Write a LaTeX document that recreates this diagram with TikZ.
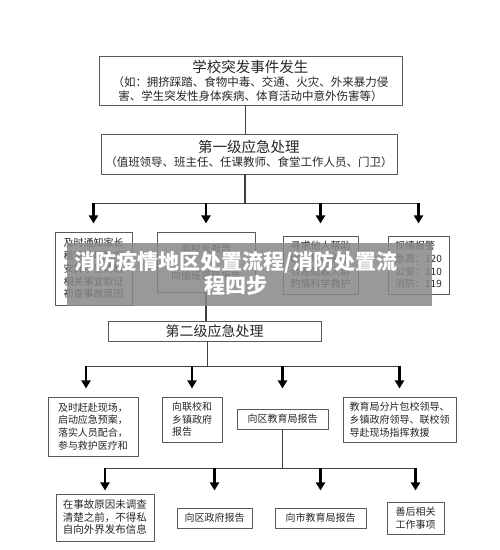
\documentclass[tikz,border=0pt]{standalone}
\usepackage{fontspec}
\newfontfamily\cjk{Noto Sans CJK SC}
\usetikzlibrary{arrows.meta}
\begin{document}
\begin{tikzpicture}[x=1pt, y=-1pt, font=\cjk, line join=round,
		box/.style 2 args={draw=black!65, line width=0.9pt, inner sep=0pt, text=black!85, minimum width=#1, minimum height=#2},
		txt/.style={font=\cjk\fontsize{10}{12.7}\selectfont},
		conn/.style={draw=black!75, line width=1.1pt},
		arr/.style={-{Triangle[width=9pt,length=8pt]}, line width=2.3pt, black}]
	\useasboundingbox (0,0) rectangle (500,550);
	% top boxes
	\node[box={303}{49}, align=center, font=\cjk\fontsize{11.5}{14}\selectfont] (evt) at (250.5,80.5)
		{{\fontsize{14.5}{16}\selectfont 学校突发事件发生}\\ （如：拥挤踩踏、食物中毒、交通、火灾、外来暴力侵\\ 害、学生突发性身体疾病、体育活动中意外伤害等）};
	\node[box={296}{40}, align=center, font=\cjk\fontsize{11.5}{14}\selectfont] (lvl1) at (249,154)
		{{\fontsize{14.5}{16}\selectfont 第一级应急处理}\\ （值班领导、班主任、任课教师、食堂工作人员、门卫）};
	% first row
	\node[box={77}{73}, txt, align=left] (A) at (93.5,268.5) {及时通知家长\\稳定现场秩序\\安抚学生情绪\\相关事宜取证\\初查事故原因};
	\node[box={98}{60}, txt, align=center] (B) at (206,262) {向校长报告\\[14pt]向值班领导报告};
	\node[box={75}{58}, txt, align=left] (C) at (320.5,265) {寻求他人帮助\\维护现场秩序\\合理疏散人群\\酌情科学救护};
	\node[box={61}{58}, txt, align=left] (D) at (418.5,265) {视情报警\\急救：120\\公安：110\\消防：119};
	\node[box={213}{20}, font=\cjk\fontsize{14}{16}\selectfont] (lvl2) at (214.5,331) {第二级应急处理};
	% second row
	\node[box={90}{59}, txt, align=left] (E) at (93,426.5) {及时赶赴现场，\\启动应急预案，\\落实人员配合，\\参与救护医疗和};
	\node[box={60}{45}, txt, align=left] (F) at (192,419.5) {向联校和\\乡镇政府\\报告};
	\node[box={91}{20}, txt] (G) at (282.5,419) {向区教育局报告};
	\node[box={113}{45}, txt, align=left] (H) at (399.5,419.5) {教育局分片包校领导、\\乡镇政府领导、联校领\\导赴现场指挥救援};
	% third row
	\node[box={98}{47}, txt, align=left, font=\cjk\fontsize{10.5}{12.5}\selectfont] (I) at (105,517.5) {在事故原因未调查\\清楚之前，不得私\\自向外界发布信息};
	\node[box={75}{20}, txt] (J) at (214.5,518) {向区政府报告};
	\node[box={91}{20}, txt] (K) at (320.5,518) {向市教育局报告};
	\node[box={57}{32}, txt, align=center] (L) at (415.5,518) {善后相关\\工作事项};
	% connectors
	\draw[conn] ([xshift=-5]evt.south) -- ([xshift=-5]evt.south |- lvl1.north);
	\draw[conn] ([xshift=-4]lvl1.south) -- ++(0,29) coordinate (j1);
	\draw[conn] (A.north |- j1) -- (D.north |- j1);
	\foreach \n in {A,B,C,D}
	\draw[arr] (\n.north |- j1) -- ++(0,20);
	\draw[conn] (B.south) -- (B.south |- lvl2.north);
	\draw[conn] ([xshift=-7]lvl2.south) -- ++(0,25) coordinate (j2);
	\draw[conn] ([xshift=-7]E.north |- j2) -- (H.north |- j2);
	\draw[arr] ([xshift=-7]E.north |- j2) -- ++(0,22);
	\foreach \n in {F,G,H}
	\draw[arr] (\n.north |- j2) -- ++(0,22);
	\draw[conn] (G.south) -- ++(0,39) coordinate (j3);
	\draw[conn] (I.north |- j3) -- (L.north |- j3);
	\foreach \n in {I,J,K,L}
	\draw[arr] (\n.north |- j3) -- ++(0,22);
	% banner
	\node[fill=black!47, fill opacity=0.85, inner sep=0pt, minimum width=365, minimum height=63] (banner) at (249.5,274.5) {};
	\node[text=white, align=center, font=\cjk\bfseries\fontsize{21}{24}\selectfont] (title) at (236,273)
		{消防疫情地区处置流程/消防处置流\\程四步};
\end{tikzpicture}
\end{document}
